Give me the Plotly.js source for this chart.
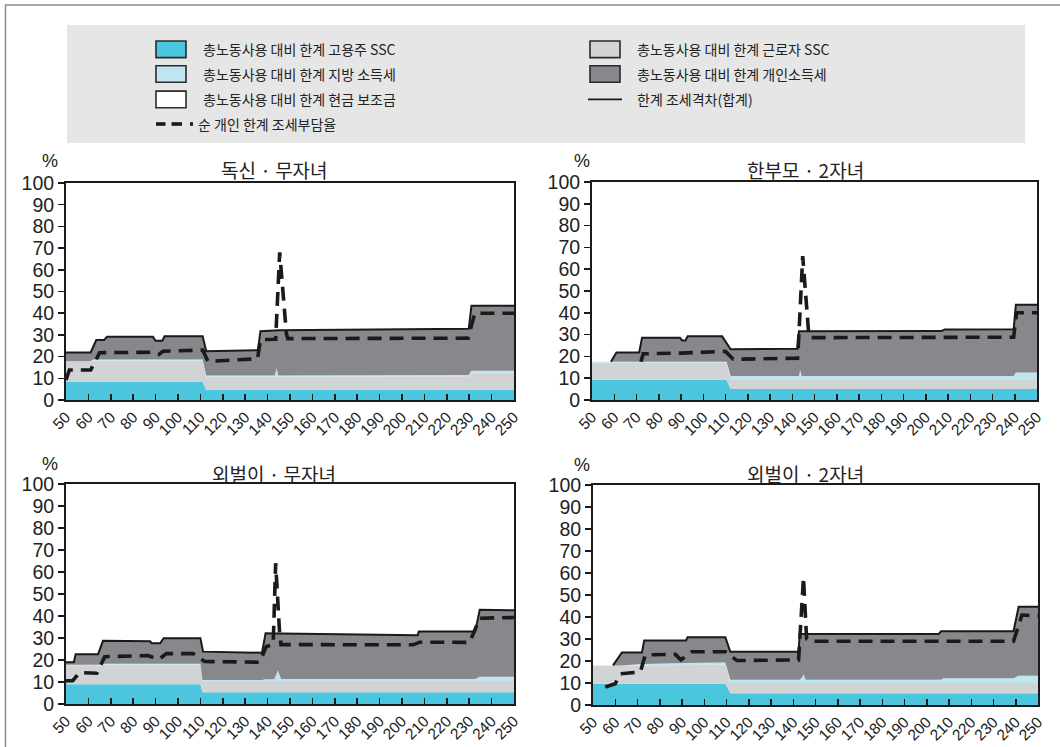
<!DOCTYPE html>
<html>
<head>
<meta charset="utf-8">
<script src="https://cdn.plot.ly/plotly-3.0.1.min.js"></script>
<style>html,body{margin:0;padding:0;background:#fff;}#chart{width:1060px;height:747px;}</style>
</head>
<body>
<div id="chart"></div>
<script>
// ---------- series names ----------
const seriesNames = [
  '총노동사용 대비 한계 고용주 SSC',
  '총노동사용 대비 한계 근로자 SSC',
  '총노동사용 대비 한계 지방 소득세',
  '총노동사용 대비 한계 개인소득세',
  '총노동사용 대비 한계 현금 보조금',
  '한계 조세격차(합계)',
  '순 개인 한계 조세부담율'
];
const panelTitles = ['독신 · 무자녀', '한부모 · 2자녀', '외벌이 · 무자녀', '외벌이 · 2자녀'];
const xTickVals = [50,60,70,80,90,100,110,120,130,140,150,160,170,180,190,200,210,220,230,240,250];
const yTickVals = [0,10,20,30,40,50,60,70,80,90,100];

// ---------- 독신 · 무자녀 ----------
const p1X = [50, 61, 62, 63.5, 67, 68.3, 88.8, 90, 93, 94, 111, 112.6, 135.7, 136.8, 143.2, 144, 144.8, 229.8, 231, 250];
const p1EmployerSSC = [8.5,8.5,8.5,8.5,8.5,8.5,8.5,8.5,8.5,8.5,8.5,4.6,4.6,4.6,4.6,4.6,4.6,4.6,4.6,4.6];
const p1EmployeeSSC = [9.0,9.0,9.6,9.6,9.6,9.6,9.6,9.6,9.6,9.6,9.6,6.1,6.1,6.1,6.1,6.1,6.1,6.3,7.4,7.4];
const p1LocalTax = [0.3,0.3,0.6,0.6,0.6,0.6,0.6,0.6,0.6,0.6,0.6,0.6,0.6,0.6,0.6,3.9,0.6,0.6,1.5,1.5];
const p1IncomeTax = [4.1,4.1,5.5,8.9,8.9,10.4,10.4,8.6,8.6,10.7,10.7,11.2,11.7,20.4,20.7,17.4,20.8,21.3,29.9,29.9];
const p1Total = [21.9,21.9,24.2,27.6,27.6,29.1,29.1,27.3,27.3,29.4,29.4,22.5,23.0,31.7,32.0,32.0,32.1,32.8,43.4,43.4];
const p1NetX = [50, 51.5, 61, 63, 65, 88, 90, 91.5, 93.3, 111, 113.4, 135.5, 136.8, 143, 143.6, 145.4, 148.4, 149, 229.5, 232.5, 250];
const p1NetRate = [9.2, 13.8, 13.8, 18, 21.8, 22, 21, 21, 22.5, 23, 17.8, 19, 27.8, 28, 28, 68, 30.5, 28.3, 28.5, 40, 40];

// ---------- 한부모 · 2자녀 ----------
const p2X = [50, 58.5, 61, 71.2, 72.5, 89.5, 90.5, 92, 93, 108.5, 110.5, 112.3, 142.3, 143, 143.6, 144.2, 207, 208.5, 239.5, 240.5, 250];
const p2EmployerSSC = [9.3,9.3,9.3,9.3,9.3,9.3,9.3,9.3,9.3,9.3,9.3,5.0,5.0,5.0,5.0,5.0,5.0,5.0,5.0,5.0,5.0];
const p2EmployeeSSC = [7.8,7.8,7.8,7.8,7.8,7.8,7.8,7.8,7.8,7.8,7.8,4.2,4.2,4.2,4.2,4.2,4.2,4.2,4.2,4.2,4.2];
const p2LocalTax = [0.4,0.4,0.4,0.4,0.4,0.4,0.4,0.4,0.4,0.4,0.4,1.8,1.8,1.8,4.6,1.8,1.8,1.8,1.8,3.4,3.4];
const p2IncomeTax = [0.0,0.0,4.3,4.3,11.0,11.0,9.8,9.8,11.7,11.7,8.6,12.3,12.5,20.5,17.7,20.5,20.6,21.3,21.4,31.1,31.1];
const p2Total = [null,17.5,21.8,21.8,28.5,28.5,27.3,27.3,29.2,29.2,26.1,23.3,23.5,31.5,31.5,31.5,31.6,32.3,32.4,43.7,43.7];
const p2NetX = [72, 73, 90, 108, 110, 113.5, 142.4, 143, 144.7, 147.5, 148.5, 239.5, 240.8, 250];
const p2NetRate = [17.5, 21.2, 21.5, 22.3, 22.3, 18.7, 19.2, 30, 66, 29, 28.6, 28.8, 40, 40];

// ---------- 외벌이 · 무자녀 ----------
const p3X = [50, 53.5, 54.3, 64.3, 66.5, 87.6, 88.3, 92, 93.6, 110, 110.9, 111.2, 137.5, 139.1, 143, 144.6, 146, 207, 207.5, 232.7, 234.7, 250];
const p3EmployerSSC = [9.0,9.0,9.0,9.0,9.0,9.0,9.0,9.0,9.0,9.0,5.3,5.3,5.3,5.3,5.3,5.3,5.3,5.3,5.3,5.3,5.3,5.3];
const p3EmployeeSSC = [8.3,8.3,8.3,8.3,8.8,8.8,8.8,8.8,8.8,8.8,5.2,5.2,5.2,5.2,5.2,5.2,5.2,5.2,5.2,5.2,5.2,5.2];
const p3LocalTax = [0.5,0.5,0.5,0.5,0.5,0.5,0.5,0.5,0.5,0.5,0.4,0.4,0.4,0.8,0.8,4.7,0.9,0.9,0.9,0.9,1.9,1.9];
const p3IncomeTax = [1.2,1.2,4.8,4.8,10.4,10.2,9.3,9.3,11.6,11.6,14.4,12.9,12.4,20.9,20.8,16.8,20.6,19.8,21.5,21.5,30.4,30.2];
const p3Total = [19.0,19.0,22.6,22.6,28.7,28.5,27.6,27.6,29.9,29.9,25.3,23.8,23.3,32.2,32.1,32.0,32.0,31.2,32.9,32.9,42.8,42.6];
const p3NetX = [50, 53, 56, 63.8, 67.3, 86.6, 91.5, 94.8, 106.7, 111.9, 136.5, 139.4, 142.5, 143.6, 145.4, 146, 205, 207.9, 230.2, 234.7, 250];
const p3NetRate = [10.6, 10.6, 14.3, 14, 21.5, 22, 20.3, 22.9, 22.9, 19.3, 19, 26.1, 27, 64, 31.4, 27, 26.9, 28.1, 28, 39, 39.3];

// ---------- 외벌이 · 2자녀 ----------
const p4X = [50, 59, 63, 72, 73, 91.8, 92.5, 109.5, 111.7, 142.4, 142.9, 144, 144.7, 145.5, 205.4, 206.4, 207.6, 239, 241.3, 250];
const p4EmployerSSC = [9.7,9.7,9.7,9.7,9.7,9.7,9.7,9.7,5.3,5.3,5.3,5.3,5.3,5.3,5.3,5.3,5.3,5.3,5.3,5.3];
const p4EmployeeSSC = [8.1,8.1,8.1,8.3,8.3,8.5,8.5,8.6,4.7,4.7,4.7,4.7,4.7,4.7,4.7,4.7,4.7,4.7,4.7,4.7];
const p4LocalTax = [0.2,0.2,0.2,0.6,0.6,0.9,0.9,1.0,1.5,1.5,1.5,2.5,4.0,1.5,1.5,1.5,2.2,2.2,3.3,3.3];
const p4IncomeTax = [0,0,5.9,5.3,10.7,10.2,11.7,11.5,12.7,12.7,20.8,19.8,18.3,20.8,20.8,22.0,21.3,21.3,31.4,31.4];
const p4Total = [null,18.0,23.9,23.9,29.3,29.3,30.8,30.8,24.2,24.2,32.3,32.3,32.3,32.3,32.3,33.5,33.5,33.5,44.7,44.7];
const p4NetX = [55.5, 60, 62.3, 71.3, 73.5, 87, 89.5, 94.5, 109.5, 114.7, 142.4, 143, 144.6, 146, 147, 239, 242.8, 250];
const p4NetRate = [8.2, 9.7, 14.2, 15, 22.8, 23, 20.5, 24.2, 24.2, 20.2, 20.5, 33, 58, 30, 29, 29, 40.9, 40.5];

// ---------- styling ----------
const W = 1060, H = 747;
const px = v => v / W;
const py = v => 1 - v / H;
const colEmployer = '#4cc6de', colEmployee = '#d2d3d5', colLocal = '#bfe6f0', colIncome = '#88888c';
const ink = '#1a1a1a';
const KR = '"Noto Sans CJK KR", "Noto Sans", sans-serif';
const NUM = '"Liberation Sans", Arial, sans-serif';

const panels = [
  {x:p1X, c:[p1EmployerSSC,p1EmployeeSSC,p1LocalTax,p1IncomeTax], t:p1Total, nx:p1NetX, ny:p1NetRate,
   dom:[66,514,183,400], titleX:274, titleY:170, pctX:50, pctY:161},
  {x:p2X, c:[p2EmployerSSC,p2EmployeeSSC,p2LocalTax,p2IncomeTax], t:p2Total, nx:p2NetX, ny:p2NetRate,
   dom:[592,1037,182,400], titleX:805, titleY:170, pctX:582, pctY:161},
  {x:p3X, c:[p3EmployerSSC,p3EmployeeSSC,p3LocalTax,p3IncomeTax], t:p3Total, nx:p3NetX, ny:p3NetRate,
   dom:[66,514,484,704], titleX:274, titleY:473, pctX:50, pctY:464},
  {x:p4X, c:[p4EmployerSSC,p4EmployeeSSC,p4LocalTax,p4IncomeTax], t:p4Total, nx:p4NetX, ny:p4NetRate,
   dom:[593,1038,485,705], titleX:805, titleY:473, pctX:582, pctY:465}
];
const fills = [colEmployer, colEmployee, colLocal, colIncome];

const data = [];
const layout = {
  width: W, height: H, autosize: false,
  margin: {l:0, r:0, t:0, b:0},
  paper_bgcolor: '#fff', plot_bgcolor: '#fff',
  showlegend: false,
  shapes: [], annotations: []
};

panels.forEach((p, i) => {
  const s = i === 0 ? '' : String(i + 1);
  const xa = 'x' + s, ya = 'y' + s;
  p.c.forEach((vals, k) => {
    data.push({
      type:'scatter', mode:'lines', x:p.x, y:vals, name:seriesNames[k],
      stackgroup:'g' + i, fillcolor:fills[k], line:{width:0, color:fills[k]},
      xaxis:xa, yaxis:ya, hoverinfo:'skip'
    });
  });
  data.push({
    type:'scatter', mode:'lines', x:p.x, y:p.t, name:seriesNames[5],
    line:{width:2, color:ink}, connectgaps:false, xaxis:xa, yaxis:ya, hoverinfo:'skip'
  });
  data.push({
    type:'scatter', mode:'lines', x:p.nx, y:p.ny, name:seriesNames[6],
    line:{width:3.6, color:ink, dash:'14px,8px'}, xaxis:xa, yaxis:ya, hoverinfo:'skip'
  });
  const [l, r, t, b] = p.dom;
  layout['xaxis' + s] = {
    domain:[px(l), px(r)], range:[50,250], anchor:ya,
    tickmode:'array', tickvals:xTickVals, ticktext:xTickVals.map(String),
    ticks:'inside', ticklen:6, tickwidth:1.5, tickcolor:ink,
    tickangle:-45, tickfont:{family:NUM, size:15.5, color:'#222'},
    showline:true, linewidth:2, linecolor:ink, mirror:true,
    showgrid:false, zeroline:false, fixedrange:true
  };
  layout['yaxis' + s] = {
    domain:[py(b), py(t)], range:[0,100], anchor:xa,
    tickmode:'array', tickvals:yTickVals, ticktext:yTickVals.map(String),
    ticks:'outside', ticklen:6, tickwidth:1.5, tickcolor:ink,
    tickfont:{family:NUM, size:19.5, color:'#222'},
    showline:true, linewidth:2, linecolor:ink, mirror:true,
    showgrid:false, zeroline:false, fixedrange:true
  };
  layout.annotations.push({
    xref:'paper', yref:'paper', x:px(p.titleX), y:py(p.titleY), xanchor:'center', yanchor:'middle',
    text:panelTitles[i], showarrow:false, font:{family:KR, size:19, color:'#222'}
  });
  layout.annotations.push({
    xref:'paper', yref:'paper', x:px(p.pctX), y:py(p.pctY), xanchor:'center', yanchor:'middle',
    text:'%', showarrow:false, font:{family:NUM, size:18, color:'#222'}
  });
});

// ---------- frame & legend (drawn as shapes / annotations) ----------
const S = layout.shapes, A = layout.annotations;
S.push({type:'line', xref:'paper', yref:'paper', x0:px(5.5), x1:px(5.5), y0:py(5), y1:py(747), line:{color:'#8c8c8c', width:1.5}, layer:'above'});
S.push({type:'line', xref:'paper', yref:'paper', x0:px(5), x1:px(1060), y0:py(5), y1:py(5), line:{color:'#8c8c8c', width:1.5}, layer:'above'});
S.push({type:'rect', xref:'paper', yref:'paper', x0:px(67), x1:px(1025), y0:py(25), y1:py(143), fillcolor:'#e6e6e6', line:{width:0}, layer:'below'});

const legendRows = [49.3, 74, 99.4, 124];
const legendItems = [
  {col:0, row:0, kind:'box', color:colEmployer, text:seriesNames[0]},
  {col:1, row:0, kind:'box', color:colEmployee, text:seriesNames[1]},
  {col:0, row:1, kind:'box', color:colLocal, text:seriesNames[2]},
  {col:1, row:1, kind:'box', color:colIncome, text:seriesNames[3]},
  {col:0, row:2, kind:'box', color:'#ffffff', text:seriesNames[4]},
  {col:1, row:2, kind:'line', text:seriesNames[5]},
  {col:0, row:3, kind:'dash', text:seriesNames[6]}
];
legendItems.forEach(it => {
  const x0 = it.col === 0 ? 156 : 590;
  const yc = legendRows[it.row];
  let tx = x0 + 45;
  if (it.kind === 'box') {
    S.push({type:'rect', xref:'paper', yref:'paper', x0:px(x0), x1:px(x0 + 30), y0:py(yc - 8.3), y1:py(yc + 8.3),
      fillcolor:it.color, line:{color:'#2a2a2a', width:1.6}, layer:'above'});
  } else if (it.kind === 'line') {
    S.push({type:'line', xref:'paper', yref:'paper', x0:px(x0 - 2), x1:px(x0 + 32), y0:py(yc), y1:py(yc),
      line:{color:ink, width:1.6}, layer:'above'});
  } else {
    [[156,165.5],[171.5,182],[190,193]].forEach(seg => {
      S.push({type:'line', xref:'paper', yref:'paper', x0:px(seg[0]), x1:px(seg[1]), y0:py(yc), y1:py(yc),
        line:{color:ink, width:3.6}, layer:'above'});
    });
    tx = 196;
  }
  A.push({xref:'paper', yref:'paper', x:px(tx), y:py(yc), xanchor:'left', yanchor:'middle',
    text:it.text, showarrow:false, font:{family:KR, size:14, color:'#222'}});
});

Plotly.newPlot('chart', data, layout, {displayModeBar:false, staticPlot:true});
</script>
</body>
</html>
